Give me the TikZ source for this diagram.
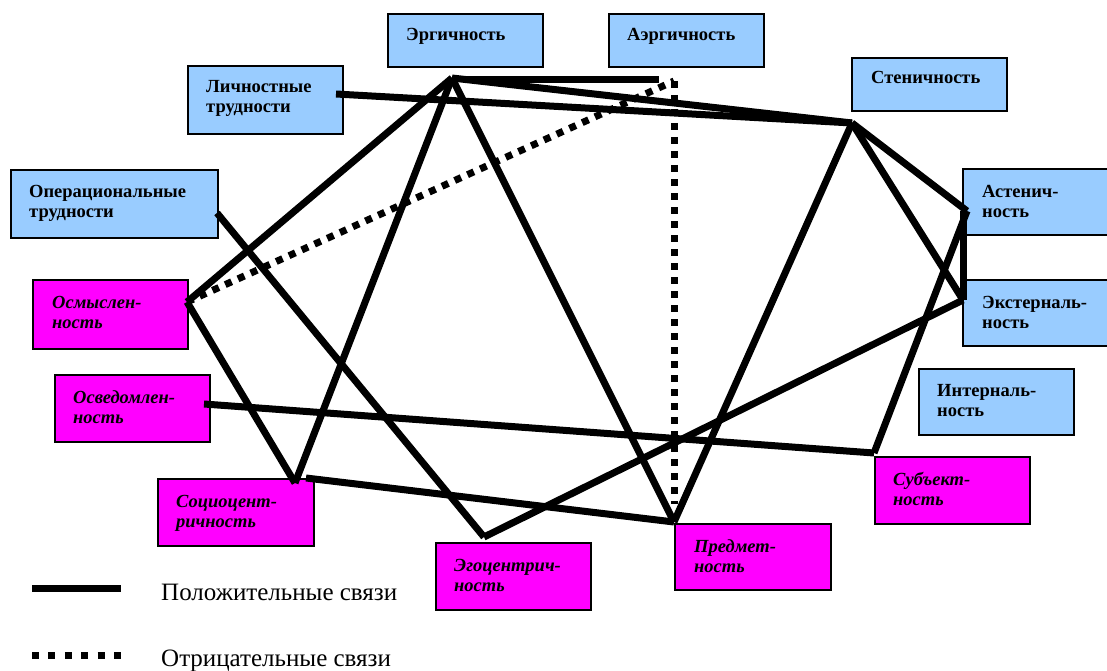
\documentclass[tikz,border=0pt]{standalone}
\usepackage{fontspec}
\setmainfont{Liberation Serif}
\usetikzlibrary{positioning}
\definecolor{factorblue}{RGB}{153,204,255}
\definecolor{factorpink}{RGB}{255,0,255}
\tikzset{
	bluebox/.style={draw=black, fill=factorblue, line width=1.8pt, minimum width=155pt, inner sep=0pt, anchor=north west},
	pinkbox/.style={bluebox, fill=factorpink},
	bluetext/.style={anchor=base west, align=left, inner sep=0pt, font=\fontsize{18.5}{20}\selectfont\bfseries},
	pinktext/.style={bluetext, font=\fontsize{18.5}{20}\selectfont\bfseries\itshape},
	poslink/.style={line width=7pt},
	neglink/.style={line width=7pt, dash pattern=on 7pt off 7pt},
}
\begin{document}
\begin{tikzpicture}[x=1pt, y=-1pt]
	\useasboundingbox (0,0) rectangle (1107,671);
	% boxes
	\node[bluebox, minimum height=53pt] (erg) at (387,13) {};
	\node[bluebox, minimum height=53pt] (aerg) at (608,13) {};
	\node[bluebox, minimum height=68pt] (lich) at (187,65) {};
	\node[bluebox, minimum height=68pt, minimum width=207pt] (oper) at (10,169) {};
	\node[bluebox, minimum height=53pt] (sten) at (851,57) {};
	\node[bluebox, minimum height=66pt, minimum width=165pt] (ast) at (962,168) {};
	\node[bluebox, minimum height=66pt, minimum width=165pt] (ext) at (962,279) {};
	\node[bluebox, minimum height=66pt] (intl) at (918,368) {};
	\node[pinkbox, minimum height=69pt] (osm) at (32,279) {};
	\node[pinkbox, minimum height=67pt] (osv) at (54,374) {};
	\node[pinkbox, minimum height=67pt, minimum width=156pt] (soc) at (157,478) {};
	\node[pinkbox, minimum height=67pt] (ego) at (435,542) {};
	\node[pinkbox, minimum height=66pt, minimum width=156pt] (pred) at (674,523) {};
	\node[pinkbox, minimum height=67pt] (subj) at (874,456) {};
	% labels (base = last line)
	\node[bluetext] (ergT) at ([shift={(19pt,-28pt)}]erg.north west) {Эргичность};
	\node[bluetext] (aergT) at ([shift={(19pt,-28pt)}]aerg.north west) {Аэргичность};
	\node[bluetext] (lichT) at ([shift={(19pt,-48pt)}]lich.north west) {Личностные\\трудности};
	\node[bluetext] (operT) at ([shift={(19pt,-48pt)}]oper.north west) {Операциональные\\трудности};
	\node[bluetext] (stenT) at ([shift={(20pt,-27pt)}]sten.north west) {Стеничность};
	\node[bluetext] (astT) at ([shift={(20pt,-49pt)}]ast.north west) {Астенич-\\ность};
	\node[bluetext] (extT) at ([shift={(20pt,-49pt)}]ext.north west) {Экстерналь-\\ность};
	\node[bluetext] (intlT) at ([shift={(19pt,-48pt)}]intl.north west) {Интерналь-\\ность};
	\node[pinktext] (osmT) at ([shift={(20pt,-49pt)}]osm.north west) {Осмыслен-\\ность};
	\node[pinktext] (osvT) at ([shift={(19pt,-49pt)}]osv.north west) {Осведомлен-\\ность};
	\node[pinktext] (socT) at ([shift={(19pt,-49pt)}]soc.north west) {Социоцент-\\ричность};
	\node[pinktext] (egoT) at ([shift={(19pt,-49pt)}]ego.north west) {Эгоцентрич-\\ность};
	\node[pinktext] (predT) at ([shift={(20pt,-49pt)}]pred.north west) {Предмет-\\ность};
	\node[pinktext] (subjT) at ([shift={(19pt,-49pt)}]subj.north west) {Субъект-\\ность};
	% link points
	\coordinate (cErg) at (452,78);
	\coordinate (cErgH) at (467,80);
	\coordinate (cAergH) at (659,80);
	\coordinate (cAerg) at (674,81);
	\coordinate (cLich) at (336,94);
	\coordinate (cSten) at (852,123);
	\coordinate (cOper) at (217,213);
	\coordinate (cOsm) at (187,302);
	\coordinate (cOsv) at (204,404);
	\coordinate (cSoc) at (295,483);
	\coordinate (cSocR) at (306,478);
	\coordinate (cEgo) at (484,537);
	\coordinate (cPred) at (674,522);
	\coordinate (cPredD) at (674,504);
	\coordinate (cSubj) at (874,453);
	\coordinate (cAst) at (967,211);
	\coordinate (cAstV) at (963,211);
	\coordinate (cExt) at (963,300);
	\foreach \a/\b in {cErgH/cAergH, cErg/cSten, cLich/cSten, cErg/cOsm, cErg/cSoc, cErg/cPred,
		cOsm/cSoc, cOper/cEgo, cOsv/cSubj, cSocR/cPred, cEgo/cExt, cPred/cSten,
		cSten/cAst, cSten/cExt, cAstV/cExt, cAst/cSubj} {
		\draw[poslink] (\a) -- (\b);
	}
	\draw[neglink] (cOsm) -- (cAerg);
	\draw[neglink] (cAerg) -- (cPredD);
	% legend
	\coordinate (posA) at (32,588);
	\coordinate (posB) at (121,588);
	\coordinate (negA) at (32,655);
	\coordinate (negB) at (121,655);
	\draw[poslink] (posA) -- (posB);
	\draw[neglink, dash pattern=on 7pt off 9.4pt] (negA) -- (negB);
	\node[anchor=base west, inner sep=0pt, font=\fontsize{25}{30}\selectfont] (posT) at (161,600) {Положительные связи};
	\node[anchor=base west, inner sep=0pt, font=\fontsize{25}{30}\selectfont] (negT) at (161,666) {Отрицательные связи};
\end{tikzpicture}
\end{document}
